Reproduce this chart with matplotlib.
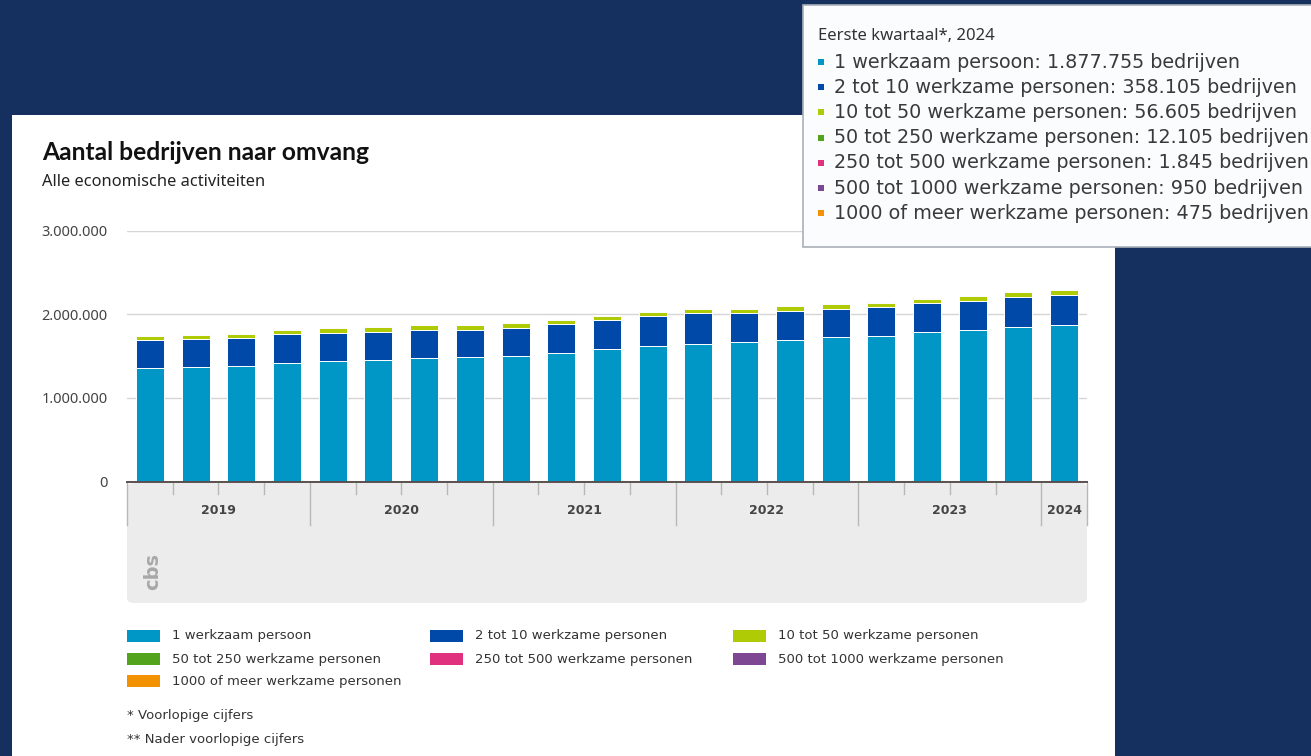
import matplotlib.pyplot as plt
import matplotlib.transforms as mtransforms
from matplotlib.patches import Rectangle, FancyBboxPatch
import numpy as np

# quarters 2019 Q1 .. 2024 Q1
years = [2019] * 4 + [2020] * 4 + [2021] * 4 + [2022] * 4 + [2023] * 4 + [2024]

series_names = [
    "1 werkzaam persoon",
    "2 tot 10 werkzame personen",
    "10 tot 50 werkzame personen",
    "50 tot 250 werkzame personen",
    "250 tot 500 werkzame personen",
    "500 tot 1000 werkzame personen",
    "1000 of meer werkzame personen",
]
colors = ["#0096c6", "#0049a8", "#afcb05", "#53a31d", "#e0317f", "#7d4791", "#f39200"]

one_person = [1355000, 1371000, 1386000, 1414000, 1442000, 1458000, 1474000, 1486000,
              1506000, 1538000, 1586000, 1618000, 1649000, 1665000, 1697000, 1725000,
              1737000, 1789000, 1817000, 1845000, 1877755]
two_to_10 = [334000, 330000, 331000, 347000, 339000, 335000, 343000, 331000,
             335000, 342000, 342000, 358000, 363000, 347000, 343000, 343000,
             347000, 342000, 346000, 366000, 358105]
ten_to_50 = [47000, 47500, 48500, 49000, 49500, 50000, 50500, 50500,
             51000, 51500, 52000, 52500, 53000, 53500, 54000, 54500,
             55000, 55500, 56000, 56300, 56605]
fifty_to_250 = [10500, 10500, 10600, 10700, 10700, 10800, 10900, 10900,
                11000, 11100, 11200, 11300, 11400, 11500, 11600, 11700,
                11800, 11900, 12000, 12000, 12105]
to_500 = [1600, 1600, 1620, 1640, 1640, 1650, 1660, 1660, 1670, 1690, 1700,
          1720, 1740, 1750, 1770, 1780, 1790, 1810, 1820, 1830, 1845]
to_1000 = [820, 820, 830, 840, 840, 850, 850, 850, 860, 870, 870,
           880, 890, 900, 910, 915, 920, 930, 935, 940, 950]
over_1000 = [420, 420, 425, 430, 430, 430, 435, 435, 440, 445, 445,
             450, 455, 455, 460, 460, 465, 465, 470, 470, 475]

series = [one_person, two_to_10, ten_to_50, fifty_to_250, to_500, to_1000, over_1000]
yticks = [0, 1000000, 2000000, 3000000]

W, H = 1311, 756


def fx(px):
    return px / W


def fy(py):
    return 1 - py / H


def dots(v):
    return f"{v:,}".replace(",", ".")


NAVY = "#15305e"
TXT = "#333333"
SANS = ["Noto Sans", "DejaVu Sans"]

fig = plt.figure(figsize=(W / 100, H / 100), dpi=100)
fig.patch.set_facecolor(NAVY)

# white card
fig.patches.append(Rectangle((fx(12), fy(756)), fx(1115 - 12), fy(115) - fy(756),
                             transform=fig.transFigure, facecolor="white",
                             edgecolor="none", zorder=-3))

# grey axis / credits band
band = FancyBboxPatch((fx(127), fy(603)), fx(1087 - 127), fy(483) - fy(603),
                      boxstyle="round,pad=0,rounding_size=0.006",
                      transform=fig.transFigure, facecolor="#ececec",
                      edgecolor="none", zorder=-2)
fig.patches.append(band)

ax = fig.add_axes([fx(127), fy(481.7), fx(1087 - 127), fy(230.6) - fy(481.7)])
ax.set_facecolor("none")

x = np.arange(len(years))
bottom = np.zeros(len(years))
for name, vals, c in zip(series_names, series, colors):
    ax.bar(x, vals, width=0.61, bottom=bottom, color=c, edgecolor="white",
           linewidth=0.7, zorder=3, label=name)
    bottom += np.array(vals)

ax.set_xlim(-0.5, len(years) - 0.5)
ax.set_ylim(0, 3000000)
ax.set_yticks(yticks)
ax.set_yticklabels([dots(v) for v in yticks], fontsize=10.5, color="#444444",
                   family=SANS)
ax.tick_params(axis="y", length=0, pad=14)
ax.tick_params(axis="x", length=0, labelbottom=False)
ax.grid(axis="y", color="#d6d6d6", linewidth=1, zorder=0)
for s in ["top", "right", "left"]:
    ax.spines[s].set_visible(False)
ax.spines["bottom"].set_color("#5a5050")
ax.spines["bottom"].set_linewidth(1.4)
ax.spines["bottom"].set_zorder(4)

# grouped x axis: quarter ticks, year separators, year labels
tr = mtransforms.blended_transform_factory(ax.transData, fig.transFigure)
for i in range(len(years) + 1):
    xpos = i - 0.5
    edge = i == 0 or i == len(years) or years[i] != years[i - 1]
    y_end = 525 if edge else 494
    ax.plot([xpos, xpos], [fy(483), fy(y_end)], transform=tr, color="#b8b8b8",
            linewidth=1, clip_on=False, zorder=2)
for yr in sorted(set(years)):
    idx = [i for i, y in enumerate(years) if y == yr]
    ax.text(np.mean(idx), fy(510), str(yr), transform=tr, ha="center", va="center",
            fontsize=9, fontweight="bold", color="#444444", family=["DejaVu Sans"])

# cbs logo
fig.text(fx(153), fy(572), "cbs", rotation=90, ha="center", va="center",
         fontsize=14, color="#a8a8a8", fontweight="bold")

# title
fig.text(fx(42), fy(160), "Aantal bedrijven naar omvang", fontsize=17.7,
         fontweight="bold", color="#111111", family=["Lato", "DejaVu Sans"],
         va="baseline")
fig.text(fx(42), fy(186), "Alle economische activiteiten", fontsize=11.8,
         color="#222222", family=SANS, va="baseline")

# legend
col_x = [127, 430, 733]
row_y = [636, 659, 681]
for i, (name, c) in enumerate(zip(series_names, colors)):
    cx, ry = col_x[i % 3], row_y[i // 3]
    fig.patches.append(Rectangle((fx(cx), fy(ry + 6)), fx(33), fy(ry - 6) - fy(ry + 6),
                                 transform=fig.transFigure, facecolor=c,
                                 edgecolor="none"))
    fig.text(fx(cx + 45), fy(ry), name, fontsize=9.5, color=TXT, va="center",
             family=["DejaVu Sans"])

fig.text(fx(127), fy(716), "* Voorlopige cijfers", fontsize=9.5, color=TXT,
         va="center", family=["DejaVu Sans"])
fig.text(fx(127), fy(740), "** Nader voorlopige cijfers", fontsize=9.5, color=TXT,
         va="center", family=["DejaVu Sans"])

# tooltip
fig.patches.append(Rectangle((fx(803), fy(247)), fx(520), fy(5) - fy(247),
                             transform=fig.transFigure, facecolor="#fbfcfd",
                             edgecolor="#a9b0b8", linewidth=1.2, zorder=5))
fig.text(fx(818), fy(36), "Eerste kwartaal*, 2024", fontsize=12, color=TXT,
         va="center", family=SANS, zorder=6)
for i, (name, vals, c) in enumerate(zip(series_names, series, colors)):
    ty = 62 + i * 25.2
    fig.patches.append(Rectangle((fx(818), fy(ty + 3)), fx(6), fy(ty - 3) - fy(ty + 3),
                                 transform=fig.transFigure, facecolor=c,
                                 edgecolor="none", zorder=6))
    fig.text(fx(834), fy(ty), f"{name}: {dots(vals[-1])} bedrijven", fontsize=13.8,
             color="#3a3a3a", va="center", family=["DejaVu Sans"], zorder=6)

fig.savefig("out.png", dpi=100, facecolor=fig.get_facecolor())
